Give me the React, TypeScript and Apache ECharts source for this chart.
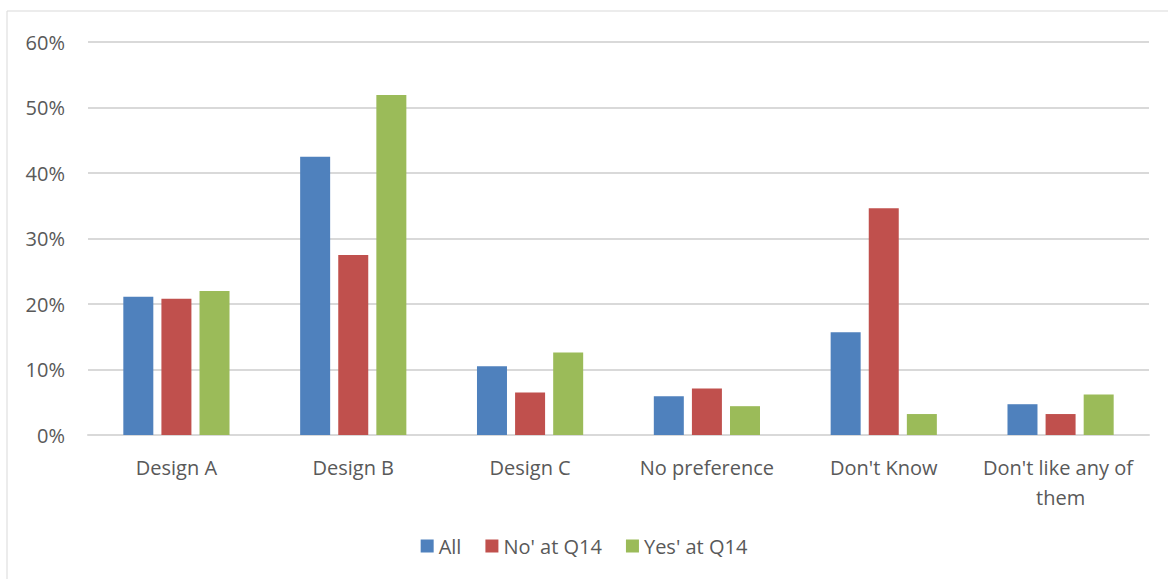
import React, { useEffect, useRef } from "react";
import * as echarts from "echarts";

const categories = ["Design A", "Design B", "Design C", "No preference", "Don't Know", "Don't like any of them"];
const seriesNames = ["All", "No' at Q14", "Yes' at Q14"];
const allValues = [21.1, 42.5, 10.5, 5.9, 15.7, 4.7];
const noValues = [20.8, 27.5, 6.5, 7.1, 34.6, 3.2];
const yesValues = [22.0, 51.9, 12.6, 4.4, 3.2, 6.2];
const colors = ["#4F81BD", "#C0504D", "#9BBB59"];

const FONT = "'Open Sans', Lato, sans-serif";

export default function App() {
  const ref = useRef<HTMLDivElement>(null);
  useEffect(() => {
    document.body.style.margin = "0";
    const chart = echarts.init(ref.current!, null, { renderer: "svg" });
    const values = [allValues, noValues, yesValues];
    chart.setOption({
      animation: false,
      backgroundColor: "#ffffff",
      textStyle: { fontFamily: FONT },
      graphic: [
        {
          type: "rect",
          shape: { x: 7, y: 11, width: 1170, height: 580 },
          style: { fill: "none", stroke: "#d9d9d9", lineWidth: 1 },
          silent: true,
        },
      ],
      grid: { left: 88, right: 19, top: 42, bottom: 144, containLabel: false },
      legend: {
        bottom: 18,
        left: "center",
        itemWidth: 13,
        itemHeight: 13,
        itemGap: 24,
        icon: "rect",
        textStyle: { fontFamily: FONT, fontSize: 20, color: "#595959" },
        data: seriesNames,
      },
      xAxis: {
        type: "category",
        data: categories,
        axisTick: { show: false },
        axisLine: { lineStyle: { color: "#d9d9d9", width: 2 } },
        axisLabel: {
          interval: 0,
          margin: 17,
          fontFamily: FONT,
          fontSize: 20,
          color: "#595959",
          width: 172,
          overflow: "break",
          lineHeight: 30,
        },
      },
      yAxis: {
        type: "value",
        min: 0,
        max: 60,
        interval: 10,
        axisLine: { show: false },
        axisTick: { show: false },
        splitLine: { lineStyle: { color: "#d9d9d9", width: 2 } },
        axisLabel: {
          formatter: "{value}%",
          margin: 23,
          fontFamily: FONT,
          fontSize: 20,
          color: "#595959",
        },
      },
      series: seriesNames.map((name, i) => ({
        name,
        type: "bar",
        data: values[i],
        barWidth: 30,
        barGap: "27%",
        itemStyle: { color: colors[i] },
      })),
    });
    return () => chart.dispose();
  }, []);
  return <div ref={ref} style={{ width: 1168, height: 579 }} />;
}
